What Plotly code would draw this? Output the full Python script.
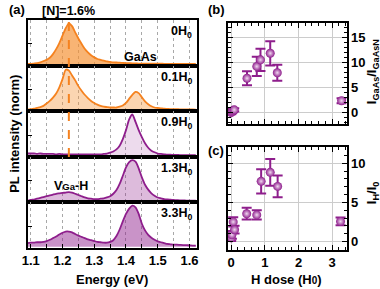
import plotly.graph_objects as go

# ---------------- data ----------------
ENERGY = [1.09, 1.10, 1.11, 1.12, 1.13, 1.14, 1.15, 1.16, 1.17, 1.18, 1.19,
          1.20, 1.21, 1.22, 1.23, 1.24, 1.25, 1.26, 1.27, 1.28, 1.29, 1.30,
          1.31, 1.32, 1.33, 1.34, 1.35, 1.36, 1.37, 1.38, 1.39, 1.40, 1.41,
          1.42, 1.43, 1.44, 1.45, 1.46, 1.47, 1.48, 1.49, 1.50, 1.51, 1.52,
          1.53, 1.54, 1.55, 1.56, 1.57, 1.58, 1.59, 1.60, 1.61, 1.62]

PL_0H0 = [0.01, 0.01, 0.02, 0.03, 0.05, 0.08, 0.11, 0.16, 0.25, 0.37, 0.52,
          0.70, 0.88, 1.00, 0.93, 0.78, 0.63, 0.50, 0.38, 0.29, 0.22, 0.17,
          0.13, 0.11, 0.09, 0.07, 0.06, 0.05, 0.045, 0.04, 0.035, 0.03, 0.03,
          0.025, 0.025, 0.02, 0.02, 0.02, 0.02, 0.018, 0.016, 0.015, 0.015, 0.014,
          0.013, 0.012, 0.012, 0.011, 0.011, 0.01, 0.01, 0.01, 0.01, 0.01]

PL_01H0 = [0.01, 0.02, 0.03, 0.05, 0.07, 0.10, 0.16, 0.22, 0.30, 0.40, 0.55,
           0.75, 0.98, 0.96, 0.84, 0.72, 0.58, 0.47, 0.37, 0.29, 0.22, 0.17,
           0.13, 0.10, 0.08, 0.07, 0.06, 0.06, 0.06, 0.08, 0.11, 0.17, 0.27,
           0.37, 0.44, 0.41, 0.31, 0.21, 0.14, 0.09, 0.06, 0.05, 0.04, 0.03,
           0.025, 0.02, 0.02, 0.018, 0.016, 0.015, 0.013, 0.012, 0.011, 0.01]

PL_09H0 = [0.05, 0.05, 0.05, 0.04, 0.05, 0.04, 0.04, 0.04, 0.04, 0.03, 0.04,
           0.03, 0.03, 0.03, 0.03, 0.03, 0.03, 0.03, 0.03, 0.03, 0.03, 0.03,
           0.03, 0.03, 0.04, 0.05, 0.07, 0.10, 0.15, 0.24, 0.40, 0.62, 0.88,
           1.00, 0.82, 0.62, 0.45, 0.30, 0.19, 0.12, 0.08, 0.05, 0.04, 0.03,
           0.02, 0.02, 0.015, 0.015, 0.012, 0.012, 0.01, 0.01, 0.01, 0.01]

PL_13H0 = [0.01, 0.03, 0.04, 0.06, 0.08, 0.10, 0.12, 0.14, 0.16, 0.18, 0.19,
           0.20, 0.21, 0.22, 0.21, 0.18, 0.15, 0.12, 0.09, 0.07, 0.06, 0.05,
           0.05, 0.06, 0.07, 0.09, 0.12, 0.18, 0.27, 0.42, 0.62, 0.82, 0.95,
           1.00, 0.96, 0.80, 0.58, 0.40, 0.28, 0.19, 0.13, 0.09, 0.07, 0.05,
           0.04, 0.035, 0.03, 0.025, 0.02, 0.02, 0.015, 0.015, 0.01, 0.01]

PL_33H0 = [0.09, 0.10, 0.10, 0.11, 0.11, 0.12, 0.14, 0.17, 0.21, 0.25, 0.30,
           0.34, 0.37, 0.37, 0.35, 0.31, 0.27, 0.24, 0.21, 0.18, 0.16, 0.14,
           0.12, 0.11, 0.10, 0.10, 0.12, 0.16, 0.26, 0.42, 0.62, 0.80, 0.93,
           1.00, 0.96, 0.80, 0.56, 0.40, 0.29, 0.22, 0.17, 0.13, 0.11, 0.09,
           0.07, 0.06, 0.05, 0.05, 0.045, 0.04, 0.04, 0.035, 0.03, 0.03]

DOSE_LABELS = ["0H<sub>0</sub>", "0.1H<sub>0</sub>", "0.9H<sub>0</sub>",
               "1.3H<sub>0</sub>", "3.3H<sub>0</sub>"]
SPECTRA = [PL_0H0, PL_01H0, PL_09H0, PL_13H0, PL_33H0]

N_PEAK_E = 1.22
E_TICKS = [1.10, 1.15, 1.20, 1.25, 1.30, 1.35, 1.40, 1.45, 1.50, 1.55, 1.60]
E_TICKTEXT = ["1.1", "", "1.2", "", "1.3", "", "1.4", "", "1.5", "", "1.6"]

# panel (b)
B_DOSE = [0.0, 0.02, 0.05, 0.09, 0.47, 0.76, 0.87, 1.16, 1.37, 3.28]
B_RATIO = [0.05, 0.25, 0.45, 0.6, 6.85, 9.2, 10.5, 11.8, 7.95, 2.4]
B_ERR = [0.3, 0.3, 0.3, 0.3, 1.4, 1.9, 2.2, 2.4, 1.6, 0.5]

# panel (c)
C_DOSE = [0.0, 0.02, 0.06, 0.1, 0.46, 0.76, 0.89, 1.16, 1.38, 3.25]
C_RATIO = [0.45, 0.85, 2.5, 1.5, 3.55, 3.4, 7.7, 8.85, 7.05, 2.56]
C_ERR = [0.4, 0.5, 0.6, 0.5, 0.75, 0.6, 1.55, 1.7, 1.4, 0.5]

# ---------------- styling ----------------
W, H = 380, 289
ORANGE = "#F5821F"
PURPLE = "#8E1E8C"
LINE_COLORS = [ORANGE, ORANGE, PURPLE, PURPLE, PURPLE]
FILL_COLORS = ["rgba(245,145,50,0.68)", "rgba(245,150,60,0.40)",
               "rgba(142,30,140,0.16)", "rgba(142,30,140,0.30)",
               "rgba(142,30,140,0.48)"]
FONT = "Liberation Sans"


def px(x):
    return x / W


def py(y):
    return 1 - y / H


fig = go.Figure()

# left stacked panels
top, bottom = 20, 248
ph = (bottom - top) / 5
LX = [px(22), px(195)]
for i in range(5):
    n = i + 1
    sfx = "" if n == 1 else str(n)
    fig.add_trace(go.Scatter(
        x=ENERGY, y=SPECTRA[i], mode="lines",
        line=dict(color=LINE_COLORS[i], width=1.8, shape="spline", smoothing=0.6),
        fill="tozeroy", fillcolor=FILL_COLORS[i], xaxis="x" + sfx, yaxis="y" + sfx,
        showlegend=False, hoverinfo="skip"))
    y0 = py(top + ph * (i + 1))
    y1 = py(top + ph * i)
    fig.layout["xaxis" + sfx] = dict(
        domain=LX, anchor="y" + sfx, range=[1.09, 1.625], showline=True, mirror=True,
        linecolor="black", linewidth=1.5, showgrid=True, gridcolor="#a8a8a8", griddash="3px,3px",
        gridwidth=1, tickvals=E_TICKS, ticktext=E_TICKTEXT, zeroline=False,
        ticks="inside" if n == 5 else "", ticklen=4, tickcolor="black",
        showticklabels=(n == 5), tickfont=dict(family=FONT, size=13, color="black", weight="bold"),
        matches="x5" if n != 5 else None)
    fig.layout["yaxis" + sfx] = dict(
        domain=[y0, y1], anchor="x" + sfx, range=[-0.03, 1.08], showline=True, mirror=True,
        linecolor="black", linewidth=1.5, showgrid=False, zeroline=False,
        tickvals=[0.5], ticks="inside", ticklen=5, tickcolor="black", showticklabels=False)
    fig.add_annotation(text="<b>%s</b>" % DOSE_LABELS[i], xref="paper", yref="paper",
                       x=px(192), y=py(top + ph * i + 12), xanchor="right", yanchor="middle",
                       showarrow=False, font=dict(family=FONT, size=12.5, color="black"))

# right panels
RX = [px(226), px(347)]
axis_common = dict(showline=True, mirror="allticks", linecolor="black", linewidth=1.5,
                   showgrid=True, gridcolor="#cccccc", gridwidth=1, zeroline=False,
                   ticks="inside", ticklen=5, tickcolor="black",
                   tickfont=dict(family=FONT, size=13, color="black", weight="bold"))

MARK = dict(color=PURPLE, size=9, gradient=dict(type="radial", color="#f0d8f0"), line=dict(width=0))
fig.add_trace(go.Scatter(
    x=B_DOSE, y=B_RATIO, mode="markers", xaxis="x6", yaxis="y6", showlegend=False, marker=MARK,
    error_y=dict(type="data", array=B_ERR, color=PURPLE, thickness=2, width=5)))
fig.add_trace(go.Scatter(
    x=C_DOSE, y=C_RATIO, mode="markers", xaxis="x7", yaxis="y7", showlegend=False, marker=MARK,
    error_y=dict(type="data", array=C_ERR, color=PURPLE, thickness=2, width=5)))

fig.layout.xaxis6 = dict(domain=RX, anchor="y6", range=[-0.1, 3.43], dtick=1, showticklabels=False,
                         minor=dict(dtick=0.2, ticks="inside", ticklen=3, tickcolor="black", showgrid=False),
                         **axis_common)
fig.layout.yaxis6 = dict(domain=[py(124), py(23)], anchor="x6", range=[-2.2, 17.8], dtick=5, side="right",
                         minor=dict(dtick=1, ticks="inside", ticklen=3, tickcolor="black", showgrid=False),
                         **axis_common)
fig.layout.xaxis7 = dict(domain=RX, anchor="y7", range=[-0.1, 3.43], dtick=1,
                         minor=dict(dtick=0.2, ticks="inside", ticklen=3, tickcolor="black", showgrid=False),
                         **axis_common)
fig.layout.yaxis7 = dict(domain=[py(250), py(147)], anchor="x7", range=[-1.1, 12.1], dtick=5, side="right",
                         minor=dict(dtick=1, ticks="inside", ticklen=3, tickcolor="black", showgrid=False),
                         **axis_common)

# orange dashed marker line
fig.add_shape(type="line", xref="x", yref="paper", x0=N_PEAK_E, x1=N_PEAK_E,
              y0=py(157), y1=py(18), line=dict(color=ORANGE, width=2, dash="dash"))


def ann(text, x, y, size=13, angle=0, xanchor="center"):
    fig.add_annotation(text=text, xref="paper", yref="paper", x=px(x), y=py(y),
                       xanchor=xanchor, yanchor="middle", showarrow=False, textangle=angle,
                       font=dict(family=FONT, size=size, color="black"))


ann("<b>(a)</b>", 11, 10)
ann("<b>(b)</b>", 214, 10)
ann("<b>(c)</b>", 214, 150)
ann("<b>[N]=1.6%</b>", 64, 11, size=12.5)
ann("<b>GaAs</b>", 137, 57, size=12.5)
ann("<b>V<span style='font-size:9.5px'>Ga</span>-H</b>", 66, 186, size=12.5)
ann("<b>PL intensity (norm)</b>", 8, 134, size=13, angle=-90)
ann("<b>Energy (eV)</b>", 108, 279, size=13)
ann("<b>H dose (H<span style='font-size:10px'>0</span>)</b>", 286, 279, size=13)
ann("<b>I<sub>GaAs</sub>/I<sub>GaAsN</sub></b>", 373, 72, size=13, angle=-90)
ann("<b>I<sub>H</sub>/I<sub>0</sub></b>", 373, 193, size=13, angle=-90)

fig.update_layout(width=W, height=H, margin=dict(l=0, r=0, t=0, b=0),
                  paper_bgcolor="white", plot_bgcolor="white",
                  font=dict(family=FONT, color="black"))

fig.write_html("out.html")
